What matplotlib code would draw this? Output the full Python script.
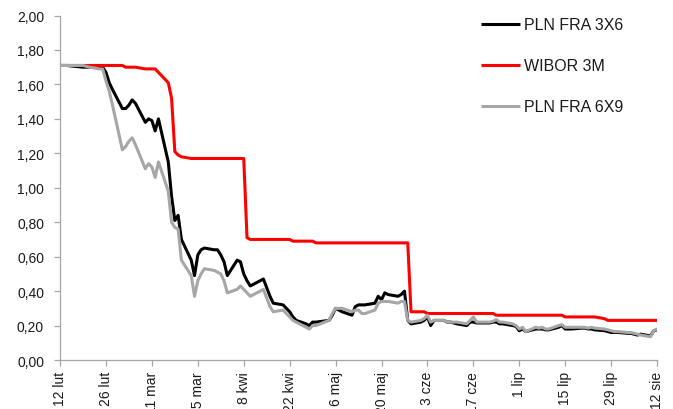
import matplotlib
matplotlib.use("Agg")
import matplotlib.pyplot as plt
import pandas as pd

plt.rcParams['font.family'] = ['Liberation Sans', 'DejaVu Sans']

# FRA quotes (business days), in %
fra_dates = [
    "2020-02-12", "2020-02-14", "2020-02-19", "2020-02-21", "2020-02-24", "2020-02-25",
    "2020-02-26", "2020-02-27", "2020-02-28", "2020-03-02", "2020-03-03", "2020-03-04",
    "2020-03-05", "2020-03-06", "2020-03-09", "2020-03-10", "2020-03-11", "2020-03-12",
    "2020-03-13", "2020-03-16", "2020-03-17", "2020-03-18", "2020-03-19", "2020-03-20",
    "2020-03-23", "2020-03-24", "2020-03-25", "2020-03-26", "2020-03-27", "2020-03-30",
    "2020-03-31", "2020-04-01", "2020-04-02", "2020-04-03", "2020-04-06", "2020-04-07",
    "2020-04-08", "2020-04-09", "2020-04-10", "2020-04-14", "2020-04-15", "2020-04-16",
    "2020-04-17", "2020-04-20", "2020-04-21", "2020-04-22", "2020-04-23", "2020-04-24",
    "2020-04-27", "2020-04-28", "2020-04-29", "2020-04-30", "2020-05-04", "2020-05-05",
    "2020-05-06", "2020-05-07", "2020-05-08", "2020-05-11", "2020-05-12", "2020-05-13",
    "2020-05-14", "2020-05-15", "2020-05-18", "2020-05-19", "2020-05-20", "2020-05-21",
    "2020-05-22", "2020-05-25", "2020-05-26", "2020-05-27", "2020-05-28", "2020-05-29",
    "2020-06-01", "2020-06-02", "2020-06-03", "2020-06-04", "2020-06-05", "2020-06-08",
    "2020-06-09", "2020-06-10", "2020-06-12", "2020-06-15", "2020-06-16", "2020-06-17",
    "2020-06-18", "2020-06-19", "2020-06-22", "2020-06-23", "2020-06-24", "2020-06-25",
    "2020-06-26", "2020-06-29", "2020-06-30", "2020-07-01", "2020-07-02", "2020-07-03",
    "2020-07-06", "2020-07-07", "2020-07-08", "2020-07-09", "2020-07-10", "2020-07-13",
    "2020-07-14", "2020-07-15", "2020-07-16", "2020-07-17", "2020-07-20", "2020-07-21",
    "2020-07-22", "2020-07-23", "2020-07-24", "2020-07-27", "2020-07-28", "2020-07-29",
    "2020-07-30", "2020-07-31", "2020-08-03", "2020-08-04", "2020-08-05", "2020-08-06",
    "2020-08-07", "2020-08-10", "2020-08-11", "2020-08-12",
]
fra_3x6 = [
    1.71, 1.71, 1.70, 1.70, 1.70, 1.70,
    1.67, 1.61, 1.57, 1.46, 1.46, 1.48,
    1.51, 1.49, 1.38, 1.40, 1.39, 1.33,
    1.40, 1.15, 0.95, 0.81, 0.84, 0.70,
    0.58, 0.49, 0.61, 0.64, 0.65, 0.64,
    0.64, 0.61, 0.57, 0.49, 0.58, 0.57,
    0.50, 0.46, 0.43, 0.47, 0.42, 0.37,
    0.33, 0.32, 0.30, 0.28, 0.25, 0.23,
    0.21, 0.20, 0.22, 0.22, 0.23, 0.26,
    0.30, 0.29, 0.28, 0.26, 0.31, 0.32,
    0.32, 0.32, 0.33, 0.37, 0.35, 0.39,
    0.38, 0.37, 0.38, 0.40, 0.23, 0.21,
    0.22, 0.23, 0.25, 0.20, 0.23, 0.23,
    0.22, 0.22, 0.21, 0.20, 0.22, 0.22,
    0.215, 0.215, 0.215, 0.22, 0.22, 0.21,
    0.21, 0.20, 0.195, 0.17, 0.18, 0.165,
    0.18, 0.18, 0.18, 0.175, 0.175, 0.19,
    0.20, 0.18, 0.18, 0.18, 0.185, 0.185,
    0.18, 0.18, 0.175, 0.17, 0.165, 0.16,
    0.16, 0.16, 0.155, 0.155, 0.15, 0.145,
    0.15, 0.14, 0.17, 0.175,
]
fra_6x9 = [
    1.71, 1.71, 1.71, 1.70, 1.69, 1.69,
    1.62, 1.56, 1.48, 1.22, 1.24, 1.27,
    1.29, 1.25, 1.11, 1.14, 1.12, 1.06,
    1.15, 0.98, 0.80, 0.77, 0.76, 0.58,
    0.49, 0.37, 0.46, 0.50, 0.53, 0.52,
    0.51, 0.50, 0.46, 0.39, 0.41, 0.43,
    0.41, 0.39, 0.37, 0.41, 0.36, 0.31,
    0.28, 0.29, 0.27, 0.25, 0.23, 0.22,
    0.19, 0.18, 0.20, 0.20, 0.23, 0.27,
    0.30, 0.30, 0.30, 0.28, 0.29, 0.29,
    0.27, 0.27, 0.29, 0.33, 0.34, 0.34,
    0.34, 0.33, 0.34, 0.34, 0.23, 0.22,
    0.23, 0.24, 0.26, 0.22, 0.23, 0.23,
    0.22, 0.22, 0.22, 0.21, 0.23, 0.25,
    0.22, 0.22, 0.22, 0.225, 0.235, 0.22,
    0.22, 0.21, 0.20, 0.18, 0.19, 0.165,
    0.19, 0.185, 0.19, 0.18, 0.18, 0.20,
    0.205, 0.19, 0.19, 0.19, 0.19, 0.19,
    0.185, 0.19, 0.185, 0.18, 0.175, 0.17,
    0.165, 0.165, 0.16, 0.16, 0.155, 0.15,
    0.145, 0.135, 0.17, 0.18,
]

# WIBOR 3M fixings, in %
wibor_dates = [
    "2020-02-12", "2020-03-02", "2020-03-03", "2020-03-06", "2020-03-09", "2020-03-12",
    "2020-03-13", "2020-03-16", "2020-03-17", "2020-03-18", "2020-03-19", "2020-03-20",
    "2020-03-23", "2020-04-08", "2020-04-09", "2020-04-10", "2020-04-22", "2020-04-23",
    "2020-04-29", "2020-04-30", "2020-05-28", "2020-05-29", "2020-06-02", "2020-06-03",
    "2020-06-23", "2020-06-24", "2020-07-14", "2020-07-15", "2020-07-24", "2020-07-27",
    "2020-07-28", "2020-08-12",
]
wibor_3m = [
    1.71, 1.71, 1.70, 1.70, 1.69, 1.69,
    1.67, 1.61, 1.52, 1.21, 1.19, 1.18,
    1.17, 1.17, 0.71, 0.70, 0.70, 0.69,
    0.69, 0.68, 0.68, 0.28, 0.28, 0.27,
    0.27, 0.26, 0.26, 0.25, 0.25, 0.24,
    0.23, 0.23,
]

tick_dates = [
    "2020-02-12", "2020-02-26", "2020-03-11", "2020-03-25", "2020-04-08", "2020-04-22",
    "2020-05-06", "2020-05-20", "2020-06-03", "2020-06-17", "2020-07-01", "2020-07-15",
    "2020-07-29", "2020-08-12",
]
tick_labels = [
    "12 lut", "26 lut", "11 mar", "25 mar", "8 kwi", "22 kwi", "6 maj", "20 maj",
    "3 cze", "17 cze", "1 lip", "15 lip", "29 lip", "12 sie",
]
series_names = ["PLN FRA 3X6", "WIBOR 3M", "PLN FRA 6X9"]
series_colors = ["#000000", "#ff0000", "#a6a6a6"]

fig = plt.figure(figsize=(6.73, 4.10), dpi=100)
ax = fig.add_axes([0.0892, 0.1195, 0.8871, 0.8402])

line_kw = dict(linewidth=2.2, solid_joinstyle="round", solid_capstyle="round")
ax.plot(pd.to_datetime(fra_dates), fra_3x6, color=series_colors[0],
        label=series_names[0], **line_kw)
ax.plot(pd.to_datetime(wibor_dates), wibor_3m, color=series_colors[1],
        label=series_names[1], **line_kw)
ax.plot(pd.to_datetime(fra_dates), fra_6x9, color=series_colors[2],
        label=series_names[2], **line_kw)

ticks = pd.to_datetime(tick_dates)
ax.set_xlim(ticks[0], ticks[-1])
ax.set_xticks(ticks)
ax.set_xticklabels(tick_labels, rotation=90, ha="center", va="top")

ax.set_ylim(0, 2.0)
yt = [i * 0.2 for i in range(11)]
ax.set_yticks(yt)
ax.set_yticklabels([f"{v:.2f}".replace(".", ",") for v in yt])

for side in ("top", "right"):
    ax.spines[side].set_visible(False)
for side in ("left", "bottom"):
    ax.spines[side].set_color("#a6a6a6")
    ax.spines[side].set_linewidth(0.9)
ax.spines["left"].set_zorder(0)

ax.tick_params(axis="both", direction="out", length=4.5, width=0.9,
               color="#a6a6a6", labelsize=10, labelcolor="#1a1a1a")
ax.tick_params(axis="y", pad=7)
ax.tick_params(axis="x", pad=3.5)

leg = ax.legend(loc="upper left", bbox_to_anchor=(0.714, 0.955),
                bbox_transform=fig.transFigure, frameon=False, fontsize=11.5,
                handlelength=2.45, handletextpad=0.3, labelspacing=1.62,
                borderpad=0, borderaxespad=0)
for h in leg.get_lines():
    h.set_linewidth(2.2)
    h.set_solid_capstyle("butt")
for t in leg.get_texts():
    t.set_color("#1a1a1a")

fig.savefig("out.png", dpi=100)
